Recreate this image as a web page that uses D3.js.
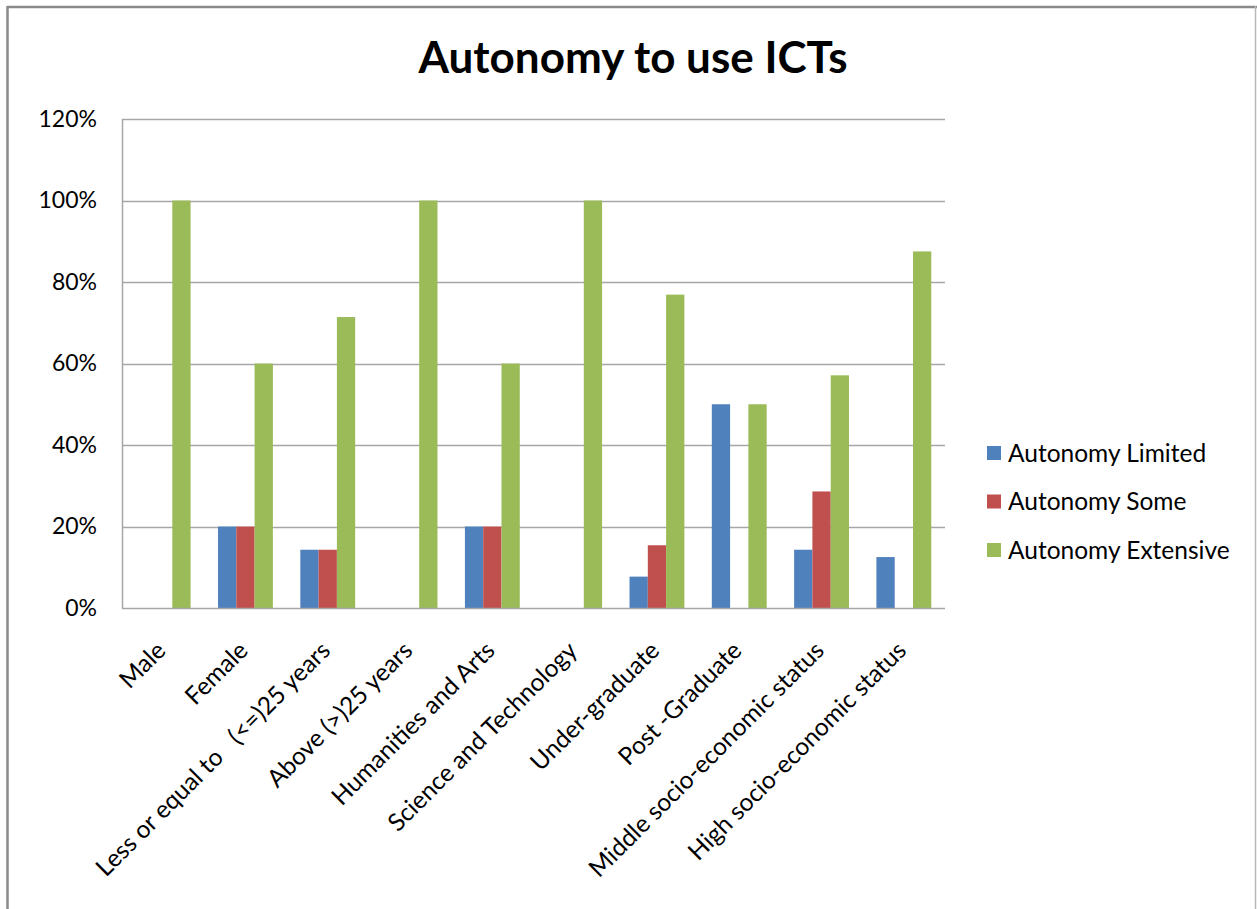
<!DOCTYPE html>
<html>
<head>
<meta charset="utf-8">
<script src="https://cdn.jsdelivr.net/npm/d3@7/dist/d3.min.js"></script>
<style>
  html, body { margin: 0; padding: 0; background: #fff; }
  svg { display: block; }
  text { font-family: Lato, "Open Sans", sans-serif; fill: #000; }
</style>
</head>
<body>
<svg id="chart" width="1257" height="909"></svg>
<script>
// Groups along the horizontal axis
const categories = [
  "Male",
  "Female",
  "Less or equal to   (<=)25 years",
  "Above (>)25 years",
  "Humanities and Arts",
  "Science and Technology",
  "Under-graduate",
  "Post -Graduate",
  "Middle socio-economic status",
  "High socio-economic status"
];

// Series names, in legend order
const seriesNames = ["Autonomy Limited", "Autonomy Some", "Autonomy Extensive"];

// Percentages per category for each series
const autonomyLimited   = [0, 20, 14.3, 0, 20, 0, 7.7, 50, 14.3, 12.5];
const autonomySome      = [0, 20, 14.3, 0, 20, 0, 15.4, 0, 28.6, 0];
const autonomyExtensive = [100, 60, 71.4, 100, 60, 100, 76.9, 50, 57.1, 87.5];

// Y axis tick values
const yTicks = [0, 20, 40, 60, 80, 100, 120];

const seriesColors = ["#4F81BD", "#C0504D", "#9BBB59"];

const seriesValues = [autonomyLimited, autonomySome, autonomyExtensive];
const rows = categories.map((c, i) => ({
  category: c,
  values: seriesNames.map((s, k) => ({ series: s, value: seriesValues[k][i] }))
}));

const svg = d3.select("#chart");

// Outer chart frame
svg.append("line").attr("x1", 7).attr("x2", 1257).attr("y1", 7).attr("y2", 7)
  .attr("stroke", "#8a8a8a").attr("stroke-width", 2.5);
svg.append("line").attr("x1", 7.5).attr("x2", 7.5).attr("y1", 6).attr("y2", 909)
  .attr("stroke", "#8a8a8a").attr("stroke-width", 2.5);
svg.append("line").attr("x1", 1255.5).attr("x2", 1255.5).attr("y1", 6).attr("y2", 909)
  .attr("stroke", "#b8b8b8").attr("stroke-width", 1.5);

const plot = { left: 122, right: 945, top: 119, bottom: 608 };

const x0 = d3.scaleBand().domain(categories).range([plot.left, plot.right]).paddingInner(0).paddingOuter(0);
const x1 = d3.scaleBand().domain(seriesNames).range([0, x0.bandwidth()]).paddingInner(0).paddingOuter(0.75);
const y = d3.scaleLinear().domain([0, 120]).range([plot.bottom, plot.top]);

// Y labels
const yAxis = d3.axisLeft(y).tickValues(yTicks).tickSize(0).tickPadding(25)
  .tickFormat(d => d + "%");
const gy = svg.append("g").attr("transform", `translate(${plot.left},0)`).call(yAxis);
gy.select(".domain").remove();
gy.selectAll("text").style("font-size", "23px").attr("fill", "#000");

// Horizontal gridlines
svg.append("g").selectAll("line").data(yTicks.filter(d => d > 0)).join("line")
  .attr("x1", plot.left).attr("x2", plot.right)
  .attr("y1", d => Math.round(y(d)) + 0.5).attr("y2", d => Math.round(y(d)) + 0.5)
  .attr("stroke", "#a6a6a6").attr("stroke-width", 1.5);

// Bars
const groups = svg.append("g").selectAll("g").data(rows).join("g")
  .attr("transform", d => `translate(${x0(d.category)},0)`);
groups.selectAll("rect").data(d => d.values.filter(v => v.value > 0)).join("rect")
  .attr("x", d => x1(d.series))
  .attr("width", x1.bandwidth())
  .attr("y", d => y(d.value))
  .attr("height", d => y(0) - y(d.value))
  .attr("fill", d => seriesColors[seriesNames.indexOf(d.series)]);

// Axis lines
svg.append("line").attr("x1", plot.left).attr("x2", plot.right)
  .attr("y1", plot.bottom + 0.5).attr("y2", plot.bottom + 0.5)
  .attr("stroke", "#a6a6a6").attr("stroke-width", 1.5);
svg.append("line").attr("x1", plot.left + 0.5).attr("x2", plot.left + 0.5)
  .attr("y1", plot.top).attr("y2", plot.bottom)
  .attr("stroke", "#a6a6a6").attr("stroke-width", 1.5);

// Rotated category labels
const xAxis = d3.axisBottom(x0).tickSize(0).tickPadding(0);
const gx = svg.append("g").attr("transform", `translate(0,${plot.bottom})`).call(xAxis);
gx.select(".domain").remove();
gx.selectAll("text")
  .style("font-size", "24.5px")
  .attr("fill", "#000")
  .attr("text-anchor", "end")
  .attr("dy", "0")
  .attr("transform", "translate(4,44) rotate(-45)")
  .attr("y", 0)
  .attr("x", 0)
  .style("white-space", "pre")
  .attr("xml:space", "preserve");

// Title
svg.append("text").attr("x", 633).attr("y", 73).attr("text-anchor", "middle")
  .style("font-size", "44px").style("font-weight", "bold").text("Autonomy to use ICTs");

// Legend
const legend = svg.append("g").selectAll("g").data(seriesNames).join("g")
  .attr("transform", (d, i) => `translate(987,${446 + i * 48.5})`);
legend.append("rect").attr("width", 14).attr("height", 14)
  .attr("fill", (d, i) => seriesColors[i]);
legend.append("text").attr("x", 21).attr("y", 7).attr("dy", "0.35em")
  .style("font-size", "24.5px").text(d => d);
</script>
</body>
</html>
